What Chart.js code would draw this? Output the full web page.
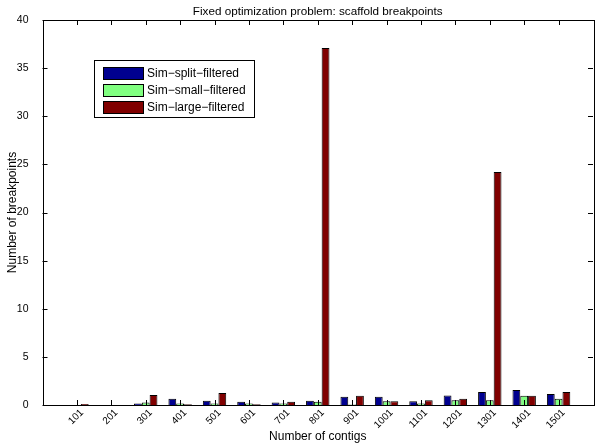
<!DOCTYPE html>
<html lang="en">
<head>
  <meta charset="UTF-8" />
  <title>Fixed optimization problem: scaffold breakpoints</title>
  <script src="https://cdn.jsdelivr.net/npm/chart.js"></script>
  <style>
    html, body { margin: 0; padding: 0; background: #fff; }
    #wrap { width: 596px; height: 448px; }
  </style>
</head>
<body>
  <div id="wrap"><canvas id="chart" width="596" height="448"></canvas></div>
  <script>
    const categories = ['101', '201', '301', '401', '501', '601', '701', '801',
      '901', '1001', '1101', '1201', '1301', '1401', '1501'];
    const splitFiltered = [0, 0, 0.15, 0.65, 0.45, 0.35, 0.25, 0.45, 0.85, 0.85, 0.4, 1.0, 1.35, 1.55, 1.15];
    const smallFiltered = [0, 0, 0.25, 0.15, 0.15, 0.15, 0.15, 0.35, 0.05, 0.4, 0.15, 0.5, 0.5, 0.95, 0.65];
    const largeFiltered = [0.1, 0, 1.05, 0.07, 1.25, 0.07, 0.35, 37.1, 0.95, 0.4, 0.5, 0.65, 24.2, 0.95, 1.35];
    const yTicks = [0, 5, 10, 15, 20, 25, 30, 35, 40];
    const chartTitle = 'Fixed optimization problem: scaffold breakpoints';

    const FONT = 'Liberation Sans, Arial, Helvetica, sans-serif';

    // one empty slot each side so the axis runs from 0 to 16 like the matlab plot
    const pad = arr => [null, ...arr, null];

    // matlab style: box round the axes, ticks pointing inwards, slanted x labels
    const boxTicks = {
      id: 'boxTicks',
      afterDatasetsDraw(chart) {
        const { ctx, chartArea: a, scales: { x, y } } = chart;
        const len = 5;
        ctx.save();
        ctx.strokeStyle = '#000';
        ctx.lineWidth = 1;
        ctx.beginPath();
        categories.forEach((c, i) => {
          const px = Math.round(x.getPixelForValue(i + 1)) + 0.5;
          ctx.moveTo(px, a.bottom); ctx.lineTo(px, a.bottom - len);
          ctx.moveTo(px, a.top); ctx.lineTo(px, a.top + len);
        });
        yTicks.forEach(v => {
          const py = Math.round(y.getPixelForValue(v)) + 0.5;
          ctx.moveTo(a.left, py); ctx.lineTo(a.left + len, py);
          ctx.moveTo(a.right, py); ctx.lineTo(a.right - len, py);
        });
        ctx.stroke();
        ctx.strokeRect(Math.round(a.left) + 0.5, Math.round(a.top) + 0.5,
          Math.round(a.right - a.left), Math.round(a.bottom - a.top));

        ctx.fillStyle = '#000';
        ctx.font = '10px ' + FONT;
        ctx.textAlign = 'right';
        ctx.textBaseline = 'middle';
        categories.forEach((c, i) => {
          const px = x.getPixelForValue(i + 1);
          ctx.save();
          ctx.translate(px + 5, a.bottom + 6);
          ctx.rotate(-Math.PI / 4);
          ctx.fillText(c, 0, 0);
          ctx.restore();
        });

        // title sits over the middle of the axes box, not the canvas
        ctx.font = '11.7px ' + FONT;
        ctx.textAlign = 'center';
        ctx.fillText(chartTitle, (a.left + a.right) / 2, 12);
        ctx.restore();
      }
    };

    const boxLegend = {
      id: 'boxLegend',
      afterDraw(chart) {
        const { ctx } = chart;
        const x0 = 94.5, y0 = 60.5, w = 160, h = 57;
        ctx.save();
        ctx.fillStyle = '#fff';
        ctx.fillRect(x0, y0, w, h);
        ctx.strokeStyle = '#000';
        ctx.lineWidth = 1;
        ctx.strokeRect(x0, y0, w, h);
        ctx.font = '12px ' + FONT;
        ctx.textBaseline = 'middle';
        chart.data.datasets.forEach((ds, i) => {
          const cy = 73.5 + i * 17;
          ctx.fillStyle = ds.backgroundColor;
          ctx.fillRect(103.5, cy - 6, 40, 12);
          ctx.strokeRect(103.5, cy - 6, 40, 12);
          ctx.fillStyle = '#000';
          ctx.fillText(ds.label, 147, cy + 0.5);
        });
        ctx.restore();
      }
    };

    new Chart(document.getElementById('chart'), {
      type: 'bar',
      data: {
        labels: pad(categories),
        datasets: [
          { label: 'Sim\u2212split\u2212filtered', data: pad(splitFiltered), backgroundColor: '#00008f' },
          { label: 'Sim\u2212small\u2212filtered', data: pad(smallFiltered), backgroundColor: '#80ff80' },
          { label: 'Sim\u2212large\u2212filtered', data: pad(largeFiltered), backgroundColor: '#800000' }
        ].map(d => Object.assign(d, {
          borderColor: '#000', borderWidth: 1, borderSkipped: 'start',
          categoryPercentage: 0.68, barPercentage: 1
        }))
      },
      options: {
        responsive: false,
        animation: false,
        layout: { padding: { left: 0, right: 3, top: 20, bottom: 0 } },
        plugins: {
          legend: { display: false },
          tooltip: { enabled: false },
          title: { display: false }
        },
        scales: {
          x: {
            offset: false,
            grid: { display: false },
            border: { display: false },
            ticks: { display: false, autoSkip: false },
            title: {
              display: true, text: 'Number of contigs', color: '#000',
              font: { family: FONT, size: 12 }, padding: { top: 0, bottom: 4 }
            },
            afterFit(s) { s.height = 43; }
          },
          y: {
            min: 0, max: 40,
            grid: { display: false },
            border: { display: false },
            afterBuildTicks(s) { s.ticks = yTicks.map(v => ({ value: v })); },
            ticks: { color: '#000', font: { family: FONT, size: 10.5 }, padding: 6 },
            title: {
              display: true, text: 'Number of breakpoints', color: '#000',
              font: { family: FONT, size: 12 }, padding: { top: 5, bottom: 0 }
            },
            afterFit(s) { s.width = 42.5; }
          }
        }
      },
      plugins: [boxTicks, boxLegend]
    });
  </script>
</body>
</html>
